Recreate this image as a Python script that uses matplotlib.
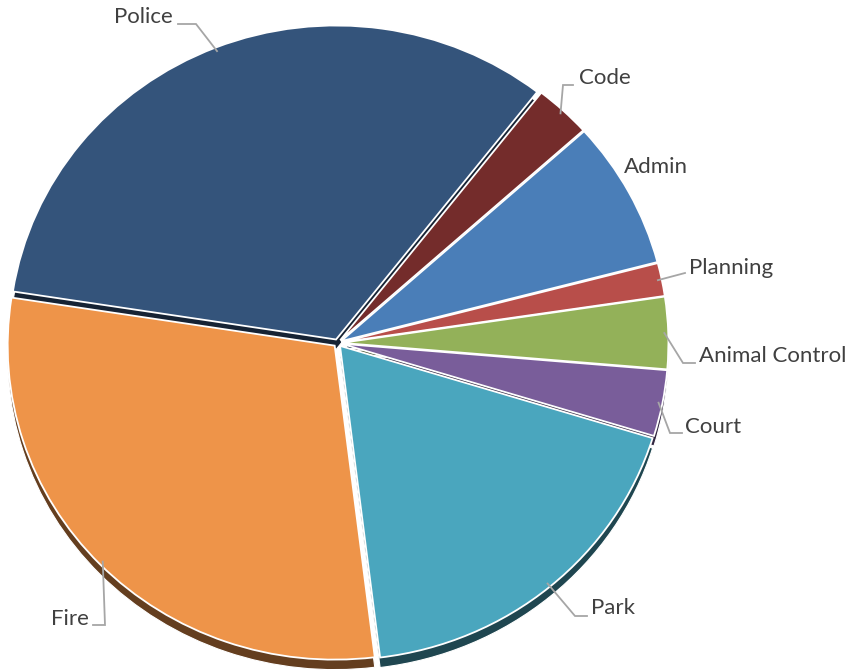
import numpy as np
import matplotlib.pyplot as plt
from matplotlib.colors import to_rgb

# share of budget (%)
depts = ['Police', 'Code', 'Admin', 'Planning', 'Animal Control', 'Court', 'Park', 'Fire']
share = [33.1, 2.8, 7.6, 1.7, 3.7, 3.4, 18.3, 29.4]
colors = ['#34547b', '#742c2b', '#4a7eb8', '#b84e4a', '#93b159', '#795d9a', '#4aa6be', '#ee9449']

# layout, in image pixels
W, H = 849, 670
CX, CY = 337.5, 343
RX, RY = 327, 314
DEPTH = 10

def px(x, y):
    return (x - CX) / RX, (CY - y) / RY

# label text position (left edge, centre y) and leader elbow points
lab_pos = {
    'Police': (114, 17), 'Code': (579, 78), 'Admin': (624, 167),
    'Planning': (689, 268), 'Animal Control': (699, 356), 'Court': (685, 427),
    'Park': (591, 608), 'Fire': (51, 619),
}
elbows = {
    'Police': [(196, 24), (178, 24)],
    'Code': [(563, 85), (573, 85)],
    'Planning': [(685, 273)],
    'Animal Control': [(683, 363), (695, 363)],
    'Court': [(670, 433), (682, 433)],
    'Park': [(575, 616), (587, 616)],
    'Fire': [(105, 625), (93, 625)],
}

fig = plt.figure(figsize=(W / 100, H / 100), dpi=100)
ax = fig.add_axes([0, 0, 1, 1])

explode = [0.012] * len(share)
start = 171.2

# side of the 3D pie: darker copy pushed down
dark = [tuple(c * 0.42 for c in to_rgb(col)) for col in colors]
ax.pie(share, colors=dark, startangle=start, counterclock=False,
       explode=explode, center=(0, -DEPTH / RY), radius=1,
       wedgeprops=dict(edgecolor='white', linewidth=0.8))

wedges, _ = ax.pie(share, colors=colors, startangle=start, counterclock=False,
                   explode=explode, radius=1,
                   wedgeprops=dict(edgecolor='white', linewidth=1.3))

ax.set_aspect('auto')
ax.set_xlim(px(0, 0)[0], px(W, 0)[0])
ax.set_ylim(px(0, H)[1], px(0, 0)[1])
ax.axis('off')

for w, name in zip(wedges, depts):
    mid = np.deg2rad((w.theta1 + w.theta2) / 2)
    anchor = (np.cos(mid) * 1.0, np.sin(mid) * 1.0)
    if name in elbows:
        pts = [anchor] + [px(*p) for p in elbows[name]]
        xs, ys = zip(*pts)
        ax.plot(xs, ys, color='#a6a6a6', lw=1.3, solid_joinstyle='miter')
    tx, ty = px(*lab_pos[name])
    ax.text(tx, ty, name, ha='left', va='center', fontsize=16,
            family='Lato', color='#404040')

fig.savefig('out.png', dpi=100)
